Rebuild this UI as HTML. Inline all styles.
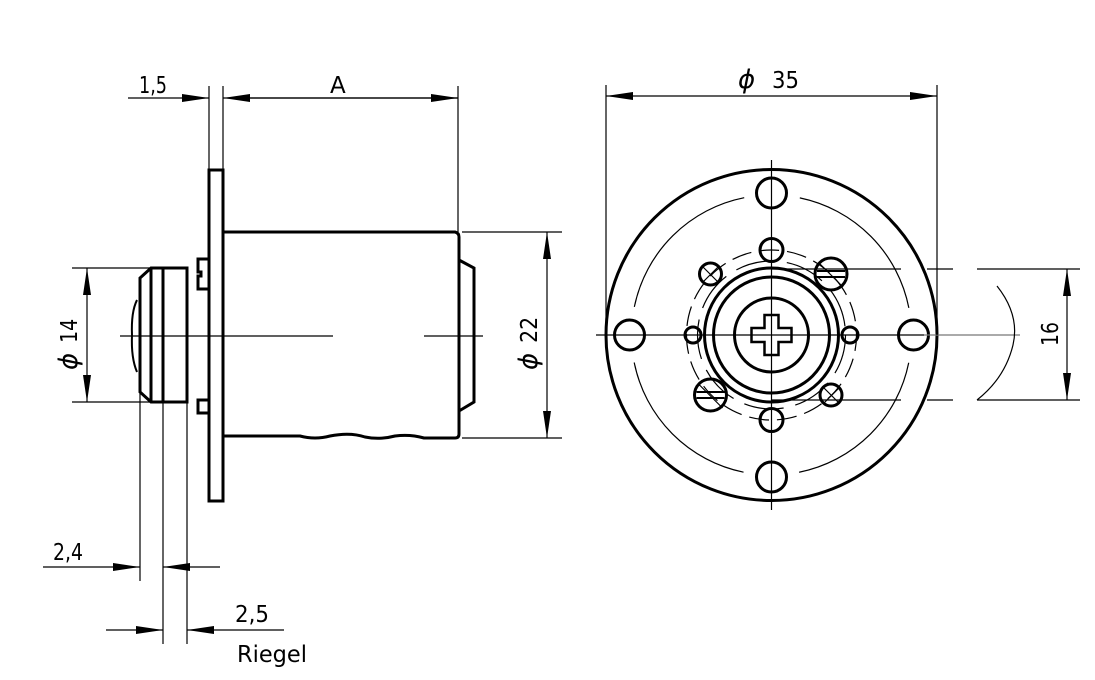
<!DOCTYPE html>
<html><head><meta charset="utf-8"><style>
html,body{margin:0;padding:0;background:#fff;}
svg{display:block;}
text{font-family:"DejaVu Sans","Liberation Sans",sans-serif;fill:#000;}
</style></head><body>
<svg width="1095" height="680" viewBox="0 0 1095 680" xmlns="http://www.w3.org/2000/svg">
<defs>
<marker id="a" viewBox="0 0 27 8" refX="27" refY="4" markerWidth="27" markerHeight="8" markerUnits="userSpaceOnUse" orient="auto"><path d="M0,0 L27,4 L0,8 Z" fill="#000"/></marker>
</defs>
<g fill="none" stroke="#000">
<!-- LEFT VIEW -->
<g stroke-width="3">
<rect x="209" y="170" width="14" height="331"/>
<path d="M224,232 H455 Q459,233 459,237 V434 Q459,438 455,438 H424 Q410,434 395,436 Q380,440 365,437 Q350,432 330,436 Q315,440 300,436 H224"/>
<path d="M459,260 L474,268 V402 L459,411"/>
<path d="M187,268 H151 L140,278 V392 L151,402 H187 Z"/>
<line x1="163" y1="268" x2="163" y2="402"/>
<line x1="151" y1="268" x2="151" y2="402"/>
<path d="M208,259 H198 V272 H201 V276 H198 V289 H208"/>
<path d="M208,400 H198 V413 H208"/>
<path d="M137,300 Q131,312 132,335 Q131,358 137,372" stroke-width="2"/>
</g>
<g stroke-width="1.2">
<line x1="120" y1="336" x2="333" y2="336"/>
<line x1="424" y1="336" x2="483" y2="336"/>
<line x1="140" y1="392" x2="140" y2="581"/>
<line x1="163" y1="402" x2="163" y2="644"/>
<line x1="187" y1="402" x2="187" y2="644"/>
<line x1="72" y1="268" x2="150" y2="268"/>
<line x1="72" y1="402" x2="150" y2="402"/>
<line x1="462" y1="232" x2="562" y2="232"/>
<line x1="462" y1="438" x2="562" y2="438"/>
<line x1="209" y1="86" x2="209" y2="170"/>
<line x1="223" y1="86" x2="223" y2="170"/>
<line x1="458" y1="86" x2="458" y2="232"/>
<line x1="128" y1="98" x2="209" y2="98" marker-end="url(#a)"/>
<line x1="458" y1="98" x2="223" y2="98" marker-end="url(#a)"/>
<line x1="240" y1="98" x2="458" y2="98" marker-end="url(#a)"/>
<line x1="87" y1="336" x2="87" y2="268" marker-end="url(#a)"/>
<line x1="87" y1="336" x2="87" y2="402" marker-end="url(#a)"/>
<line x1="547" y1="336" x2="547" y2="232" marker-end="url(#a)"/>
<line x1="547" y1="336" x2="547" y2="438" marker-end="url(#a)"/>
<line x1="43" y1="567" x2="140" y2="567" marker-end="url(#a)"/>
<line x1="220" y1="567" x2="163" y2="567" marker-end="url(#a)"/>
<line x1="106" y1="630" x2="163" y2="630" marker-end="url(#a)"/>
<line x1="284" y1="630" x2="187" y2="630" marker-end="url(#a)"/>
</g>
<!-- RIGHT VIEW -->
<g stroke-width="3">
<circle cx="771.5" cy="335" r="165.5"/>
<circle cx="771.5" cy="335" r="67"/>
<circle cx="771.5" cy="335" r="58"/>
<circle cx="771.5" cy="335" r="37"/>
<circle cx="771.5" cy="193" r="15"/>
<circle cx="771.5" cy="477" r="15"/>
<circle cx="629.5" cy="335" r="15"/>
<circle cx="913.5" cy="335" r="15"/>
<circle cx="771.5" cy="250" r="11.5"/>
<circle cx="771.5" cy="420" r="11.5"/>
<circle cx="693" cy="335" r="8"/>
<circle cx="850" cy="335" r="8"/>
<circle cx="710.5" cy="274" r="11"/>
<circle cx="831" cy="395" r="11"/>
<circle cx="831" cy="274" r="16"/>
<circle cx="710.5" cy="395" r="16"/>
<path d="M764.5,315 h14 v13 h13 v14 h-13 v13 h-14 v-13 h-13 v-14 h13 Z" stroke-width="2.5"/>
</g>
<g stroke-width="2">
<path d="M817,271 h28 M817,277 h28 M696.5,392 h28 M696.5,398 h28"/>
</g>
<g stroke-width="1.2">
<path d="M703,267 l15,15 M718,267 l-15,15 M824,388 l15,15 M839,388 l-15,15 M819,263 l24,24 M698.5,384 l24,24"/>
<circle cx="771.5" cy="335" r="140" stroke-dasharray="164,56" stroke-dashoffset="192"/>
<circle cx="771.5" cy="335" r="85" stroke-dasharray="20,8" stroke-dashoffset="4"/>
<circle cx="771.5" cy="335" r="74" stroke-dasharray="40,12"/>
<line x1="771.5" y1="160" x2="771.5" y2="510"/>
<line x1="596" y1="335" x2="924" y2="335"/>
<line x1="924" y1="335" x2="1020" y2="335" stroke="#777"/>
<line x1="606" y1="85" x2="606" y2="335"/>
<line x1="937" y1="85" x2="937" y2="335"/>
<line x1="700" y1="96" x2="606" y2="96" marker-end="url(#a)"/>
<line x1="700" y1="96" x2="937" y2="96" marker-end="url(#a)"/>
<line x1="771" y1="269" x2="901" y2="269"/>
<line x1="771" y1="400" x2="901" y2="400"/>
<line x1="927" y1="269" x2="953" y2="269"/>
<line x1="927" y1="400" x2="953" y2="400"/>
<line x1="977" y1="269" x2="1080" y2="269"/>
<line x1="977" y1="400" x2="1080" y2="400"/>
<path d="M997,286 Q1020,315 1013,345 Q1005,378 977,400"/>
<line x1="1067" y1="335" x2="1067" y2="269" marker-end="url(#a)"/>
<line x1="1067" y1="335" x2="1067" y2="400" marker-end="url(#a)"/>
</g>
</g>
<g font-size="23">
<text x="139" y="93" textLength="28" lengthAdjust="spacingAndGlyphs">1,5</text>
<text x="330" y="93">A</text>
<text x="738" y="88" font-size="26" font-style="italic">ϕ</text>
<text x="772" y="88" textLength="27" lengthAdjust="spacingAndGlyphs">35</text>
<text x="53" y="560" textLength="30" lengthAdjust="spacingAndGlyphs">2,4</text>
<text x="235" y="622" textLength="34" lengthAdjust="spacingAndGlyphs">2,5</text>
<text x="237" y="662" textLength="70" lengthAdjust="spacingAndGlyphs">Riegel</text>
<text transform="translate(77,370) rotate(-90)"><tspan font-size="26" font-style="italic">ϕ</tspan><tspan dx="10" textLength="24" lengthAdjust="spacingAndGlyphs">14</tspan></text>
<text transform="translate(537,370) rotate(-90)"><tspan font-size="26" font-style="italic">ϕ</tspan><tspan dx="10" textLength="26" lengthAdjust="spacingAndGlyphs">22</tspan></text>
<text transform="translate(1058,346) rotate(-90)" textLength="24" lengthAdjust="spacingAndGlyphs">16</text>
</g>
</svg>
</body></html>
